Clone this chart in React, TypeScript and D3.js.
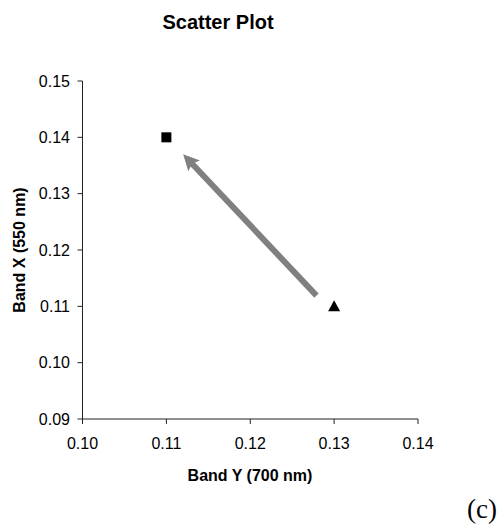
import React from "react";
import * as d3 from "d3";

const title = "Scatter Plot";
const xLabel = "Band Y (700 nm)";
const yLabel = "Band X (550 nm)";
const xTicks = [0.1, 0.11, 0.12, 0.13, 0.14];
const yTicks = [0.09, 0.1, 0.11, 0.12, 0.13, 0.14, 0.15];
const squarePoints = [{ x: 0.11, y: 0.14 }];
const trianglePoints = [{ x: 0.13, y: 0.11 }];
const arrow = [
  { x: 0.1279, y: 0.1119 },
  { x: 0.112, y: 0.137 },
];
const panelLabel = "(c)";

const W = 504;
const H = 525;

export default function App() {
  const x = d3.scaleLinear().domain([0.1, 0.14]).range([82.5, 418]);
  const y = d3.scaleLinear().domain([0.09, 0.15]).range([419, 81]);
  const fmt = d3.format(".2f");

  const [a0, a1] = arrow;
  const x0 = x(a0.x), y0 = y(a0.y), x1 = x(a1.x), y1 = y(a1.y);
  const dx = x1 - x0, dy = y1 - y0;
  const len = Math.hypot(dx, dy);
  const ux = dx / len, uy = dy / len;
  const px = -uy, py = ux;
  const headL = 16, headW = 8;
  const bx = x1 - ux * headL, by = y1 - uy * headL;
  const head = `M${x1},${y1}L${bx + px * headW},${by + py * headW}L${bx + ux * 3},${by + uy * 3}L${bx - px * headW},${by - py * headW}Z`;

  const axisColor = "#222";
  const font = "'Liberation Sans', Arial, sans-serif";

  return (
    <svg width={W} height={H} style={{ position: "absolute", left: 0, top: 0 }} fontFamily={font}>
      <rect width={W} height={H} fill="#fff" />
      <text x={218} y={29} textAnchor="middle" fontSize={20} fontWeight="bold">{title}</text>

      {/* axes */}
      <line x1={x.range()[0]} x2={x.range()[0]} y1={y.range()[1]} y2={y.range()[0]} stroke={axisColor} strokeWidth={1} />
      <line x1={x.range()[0]} x2={x.range()[1]} y1={y.range()[0]} y2={y.range()[0]} stroke={axisColor} strokeWidth={1} />
      {yTicks.map((t) => (
        <g key={"y" + t}>
          <line x1={x.range()[0] - 5} x2={x.range()[0]} y1={y(t)} y2={y(t)} stroke={axisColor} />
          <text x={70} y={y(t)} dy="0.36em" textAnchor="end" fontSize={16}>{fmt(t)}</text>
        </g>
      ))}
      {xTicks.map((t) => (
        <g key={"x" + t}>
          <line x1={x(t)} x2={x(t)} y1={y.range()[0]} y2={y.range()[0] + 5} stroke={axisColor} />
          <text x={x(t)} y={448.5} textAnchor="middle" fontSize={16}>{fmt(t)}</text>
        </g>
      ))}

      <text x={250} y={481} textAnchor="middle" fontSize={16} fontWeight="bold">{xLabel}</text>
      <text transform={`translate(24.5,250) rotate(-90)`} textAnchor="middle" fontSize={16} fontWeight="bold">{yLabel}</text>

      {/* arrow */}
      <line x1={x0} y1={y0} x2={bx + ux * 4} y2={by + uy * 4} stroke="#808080" strokeWidth={6} />
      <path d={head} fill="#808080" />

      {/* points */}
      {squarePoints.map((p, i) => (
        <rect key={"s" + i} x={x(p.x) - 5} y={y(p.y) - 5} width={10} height={10} fill="#000" />
      ))}
      {trianglePoints.map((p, i) => {
        const cx = x(p.x), cy = y(p.y);
        return <path key={"t" + i} d={`M${cx},${cy - 6}L${cx + 6},${cy + 5}L${cx - 6},${cy + 5}Z`} fill="#000" />;
      })}

      <text x={467} y={518} fontSize={27} fontFamily="'Liberation Serif', 'Times New Roman', serif">{panelLabel}</text>
    </svg>
  );
}
